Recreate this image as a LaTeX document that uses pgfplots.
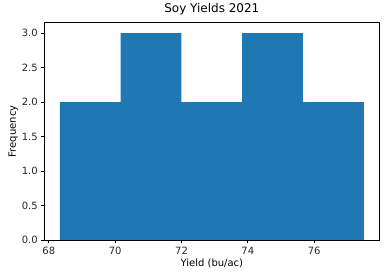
\documentclass[border=0pt]{standalone}
\usepackage{pgfplots}
\pgfplotsset{compat=1.18}
\usepackage{fontspec}
\setmainfont{DejaVu Sans}
\definecolor{tabblue}{HTML}{1F77B4}
\begin{document}
\begin{tikzpicture}
\begin{axis}[
  name=ax,
  scale only axis,
  width=334.3pt, height=217.3pt,
  xmin=67.875, xmax=77.955,
  ymin=0, ymax=3.15,
  xtick={68,70,72,74,76},
  ytick={0,0.5,1,1.5,2,2.5,3},
  yticklabel style={/pgf/number format/.cd,fixed,fixed zerofill,precision=1},
  /pgf/number format/assume math mode=true,
  tick align=outside,
  major tick length=3.5pt,
  tick style={black, line width=0.8pt},
  axis line style={line width=0.8pt},
  xtick pos=bottom, ytick pos=left,
  ticklabel style={font=\fontsize{10}{12}\selectfont, text=black!85},
  title={Soy Yields 2021},
  title style={font=\fontsize{12}{14}\selectfont, yshift=-2pt},
  xlabel={Yield (bu/ac)},
  ylabel={Frequency},
  label style={font=\fontsize{10}{12}\selectfont},
  xlabel style={yshift=3pt},
  ylabel style={yshift=-3pt},
]
\addplot[ybar interval, fill=tabblue, draw=none] coordinates {
(68.33,2) (70.163,3) (71.997,2) (73.83,3) (75.663,2) (77.497,2)
};
\end{axis}
\pgfresetboundingbox
\path[use as bounding box] ([shift={(-44.7pt,-38pt)}]ax.south west) rectangle ([shift={(7pt,22.7pt)}]ax.north east);
\end{tikzpicture}
\end{document}
